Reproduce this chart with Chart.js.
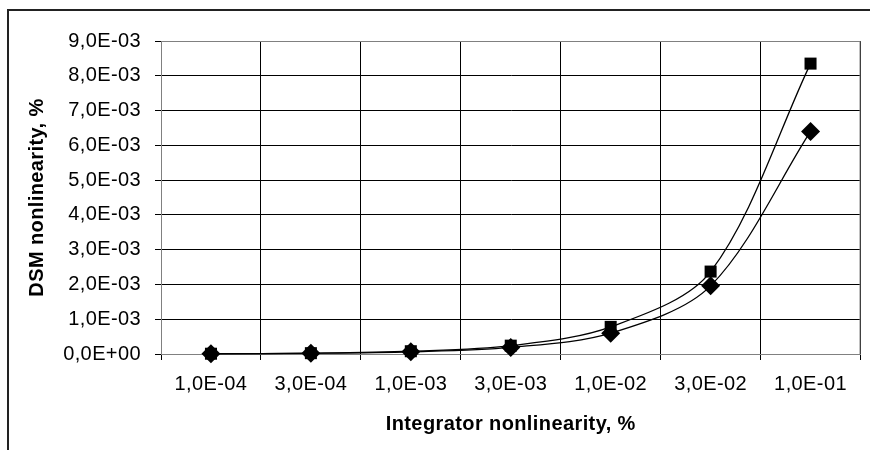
<!DOCTYPE html>
<html>
<head>
<meta charset="utf-8">
<script src="https://cdn.jsdelivr.net/npm/chart.js@4/dist/chart.umd.min.js"></script>
<style>
  html, body { margin: 0; padding: 0; background: #fff; }
  #wrap { width: 870px; height: 450px; position: relative; }
</style>
</head>
<body>
<div id="wrap"><canvas id="c"></canvas></div>
<script>
// Integrator nonlinearity levels (x categories)
const categories = ['1,0E-04', '3,0E-04', '1,0E-03', '3,0E-03', '1,0E-02', '3,0E-02', '1,0E-01'];

// DSM nonlinearity, % — two simulation runs
const seriesSquare  = [0.000008, 0.000024, 0.00008, 0.00024, 0.00078, 0.00237, 0.00835];
const seriesDiamond = [0.0000065, 0.00002, 0.000063, 0.00019, 0.0006, 0.00196, 0.0064];

// y axis tick labels, from 0 to 9E-03 in steps of 1E-03
const yTickLabels = ['0,0E+00', '1,0E-03', '2,0E-03', '3,0E-03', '4,0E-03',
                     '5,0E-03', '6,0E-03', '7,0E-03', '8,0E-03', '9,0E-03'];
const yStep = 0.001;

Chart.defaults.font.family = "'Liberation Sans', Arial, sans-serif";
Chart.defaults.font.size = 20;
Chart.defaults.color = '#000';

const SPACING = '0.4px';

// slightly wider glyph spacing for all canvas text (measuring and drawing)
const letterSpacing = {
  id: 'letterSpacing',
  beforeUpdate(chart) { chart.ctx.letterSpacing = SPACING; },
  beforeDraw(chart) { chart.ctx.letterSpacing = SPACING; }
};

// outer frame around the whole figure
const frame = {
  id: 'frame',
  beforeDraw(chart) {
    const ctx = chart.ctx;
    ctx.save();
    ctx.strokeStyle = '#222';
    ctx.lineWidth = 2;
    ctx.strokeRect(8, 10, 1000, 1000);
    ctx.restore();
  }
};

// gray border around the plot area
const plotBorder = {
  id: 'plotBorder',
  beforeDatasetsDraw(chart) {
    const a = chart.chartArea;
    const ctx = chart.ctx;
    ctx.save();
    ctx.strokeStyle = '#808080';
    ctx.lineWidth = 1;
    ctx.beginPath();
    ctx.moveTo(a.left, a.top + 0.5);
    ctx.lineTo(a.right - 0.5, a.top + 0.5);
    ctx.lineTo(a.right - 0.5, a.bottom);
    ctx.stroke();
    ctx.restore();
  }
};

new Chart(document.getElementById('c'), {
  type: 'line',
  data: {
    labels: categories,
    datasets: [
      {
        data: seriesSquare,
        borderColor: '#000',
        borderWidth: 1.3,
        backgroundColor: '#000',
        pointStyle: 'rect',
        pointRadius: 8.5,
        pointBorderWidth: 0,
        pointBackgroundColor: '#000',
        tension: 0.32,
        clip: false
      },
      {
        data: seriesDiamond,
        borderColor: '#000',
        borderWidth: 1.3,
        backgroundColor: '#000',
        pointStyle: 'rectRot',
        pointRadius: 9.5,
        pointBorderWidth: 0,
        pointBackgroundColor: '#000',
        tension: 0.32,
        clip: false
      }
    ]
  },
  options: {
    responsive: true,
    maintainAspectRatio: false,
    animation: false,
    layout: { padding: { left: 0, top: 41, right: 2, bottom: 0 } },
    plugins: {
      legend: { display: false },
      tooltip: { enabled: false }
    },
    scales: {
      x: {
        type: 'category',
        offset: true,
        grid: {
          offset: true,
          color: '#000',
          lineWidth: 1,
          tickLength: 6,
          tickColor: '#000'
        },
        border: { color: '#808080', width: 1 },
        ticks: { padding: 12, maxRotation: 0, autoSkip: false, color: '#000' },
        title: {
          display: true,
          text: 'Integrator nonlinearity, %',
          font: { weight: 'bold', size: 20 },
          color: '#000',
          padding: { top: 0, bottom: 14 }
        },
        afterFit(scale) { scale.height = 96; }
      },
      y: {
        min: 0,
        max: 0.009,
        grid: {
          color: (c) => (c.tick && c.tick.value >= 0.009 - 1e-9) ? '#808080' : '#000',
          lineWidth: 1,
          tickLength: 6,
          tickColor: '#000'
        },
        border: { color: '#808080', width: 1 },
        ticks: {
          stepSize: yStep,
          padding: 14,
          color: '#000',
          callback: (v) => yTickLabels[Math.round(v / yStep)]
        },
        title: {
          display: true,
          text: 'DSM nonlinearity, %',
          font: { weight: 'bold', size: 20 },
          color: '#000',
          padding: { top: 25, bottom: 0 }
        },
        afterFit(scale) { scale.width = 161; }
      }
    }
  },
  plugins: [letterSpacing, frame, plotBorder]
});
</script>
</body>
</html>
